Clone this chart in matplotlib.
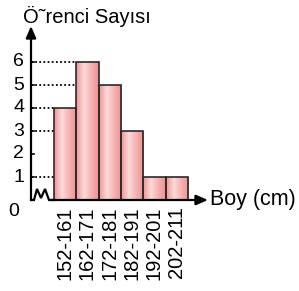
import numpy as np
import matplotlib
matplotlib.use("Agg")
import matplotlib.pyplot as plt
from matplotlib.colors import LinearSegmentedColormap
from matplotlib.patches import Rectangle

plt.rcParams["font.family"] = ["Liberation Sans", "DejaVu Sans"]

categories = ["152-161", "162-171", "172-181", "182-191", "192-201", "202-211"]
counts = [4, 6, 5, 3, 1, 1]
y_ticks = [1, 2, 3, 4, 5, 6]
y_title = "Ö˜renci Sayısı"
x_title = "Boy (cm)"

# pixel -> data mapping (bar width ~22.3 px, one unit ~23 px)
SX, SY = 22.33, 23.0
def dx(px):
    return -0.5 + (px - 54) / SX
def dy(py):
    return (200 - py) / SY

W, H = 299, 291
fig = plt.figure(figsize=(W / 100, H / 100), dpi=100)
ax = fig.add_axes([0, 0, 1, 1])
ax.set_xlim(dx(0), dx(W))
ax.set_ylim(dy(H), dy(0))
ax.axis("off")

pink = LinearSegmentedColormap.from_list(
    "pink", [(0, "#ef9595"), (0.35, "#fcdada"), (0.7, "#f5aeae"), (1, "#ee9090")])
grad = np.linspace(0, 1, 64).reshape(1, -1)
x = np.arange(len(categories))
for xi, c in zip(x, counts):
    im = ax.imshow(grad, cmap=pink, aspect="auto",
                   extent=(xi - 0.5, xi + 0.5, 0, c), zorder=2)
    rect = Rectangle((xi - 0.5, 0), 1, c, fill=False, ec="#2a2a2a", lw=1.2, zorder=3)
    ax.add_patch(rect)
    im.set_clip_path(rect)

ax_x = dx(31)
# dotted guide lines up to the first bar they meet
for t in y_ticks:
    ax.plot([ax_x, ax_x + 0.12], [t, t], color="black", lw=1.2, zorder=4)
    stop = None
    for xi, c in zip(x, counts):
        if c >= t:
            stop = xi - 0.5
            break
    if t in counts and stop is not None:
        ax.plot([ax_x, stop], [t, t], color="black", lw=1.3, ls=(0, (1, 1.3)), zorder=1)
    ax.text(ax_x - 0.3, t, str(t), ha="right", va="center", fontsize=14)

# axes with arrows
ax.annotate("", xy=(ax_x, dy(26)), xytext=(ax_x, 0),
            arrowprops=dict(arrowstyle="-|>,head_length=0.7,head_width=0.3",
                            color="black", lw=1.6, shrinkA=0, shrinkB=0), zorder=5)
ax.annotate("", xy=(dx(208), 0), xytext=(dx(51), 0),
            arrowprops=dict(arrowstyle="-|>,head_length=0.7,head_width=0.3",
                            color="black", lw=1.6, shrinkA=0, shrinkB=0), zorder=5)
# axis break zigzag
zx = [31, 34, 37, 41, 45, 49, 54]
zy = [200, 200, 189, 198, 189, 200, 200]
ax.plot([dx(p) for p in zx], [dy(p) for p in zy], color="black", lw=1.6,
        solid_joinstyle="miter", zorder=5)

ax.text(dx(14), dy(211), "0", ha="center", va="center", fontsize=14)
ax.text(dx(23), dy(16), y_title, ha="left", va="center", fontsize=14.5)
ax.text(dx(210), 0, x_title, ha="left", va="center", fontsize=15.5)
for xi, lab in zip(x, categories):
    ax.text(xi, dy(206), lab, rotation=90, ha="center", va="top", fontsize=14.5)

fig.savefig("out.png", dpi=100)
